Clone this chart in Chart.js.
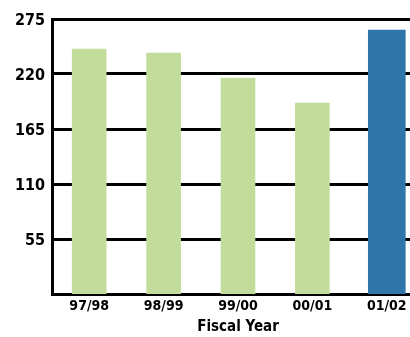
<!DOCTYPE html>
<html>
<head>
<meta charset="utf-8">
<script src="https://cdn.jsdelivr.net/npm/chart.js@4/dist/chart.umd.min.js"></script>
<style>
  html, body { margin: 0; padding: 0; background: #fff; overflow: hidden; width: 410px; height: 337px; }
  #wrap { position: relative; width: 424px; height: 337px; }
</style>
</head>
<body>
<div id="wrap"><canvas id="c" width="424" height="337"></canvas></div>
<script>
// Fiscal years on the x axis
const years = ['97/98', '98/99', '99/00', '00/01', '01/02'];
// Earlier years (green) and the current year (blue)
const pastValues = [245, 241, 216, 191, null];
const currentValues = [null, null, null, null, 264];
// Y axis ticks
const yTicks = [55, 110, 165, 220, 275];

const condensed = '"DejaVu Sans Condensed", "DejaVu Sans", sans-serif';

new Chart(document.getElementById('c'), {
  type: 'bar',
  data: {
    labels: years,
    datasets: [
      { data: pastValues, backgroundColor: '#c2dd9b', barThickness: 34, grouped: false },
      { data: currentValues, backgroundColor: '#2e75aa', barThickness: 37, grouped: false }
    ]
  },
  options: {
    responsive: false,
    animation: false,
    layout: { padding: { top: 19, left: 0, right: 0, bottom: 0 } },
    plugins: { legend: { display: false }, tooltip: { enabled: false } },
    scales: {
      x: {
        grid: { display: false, drawTicks: false },
        border: { display: true, color: '#000', width: 3 },
        ticks: { color: '#000', font: { family: condensed, weight: 'bold', size: 14 }, padding: 4, maxRotation: 0 },
        title: {
          display: true,
          text: 'Fiscal Year',
          color: '#000',
          font: { family: condensed, weight: 'bold', size: 15 },
          padding: { top: 0, bottom: 1 }
        },
        afterFit: s => { s.height = 43; }
      },
      y: {
        min: 0,
        max: 275,
        afterBuildTicks: s => { s.ticks = yTicks.map(v => ({ value: v })); },
        grid: { color: '#000', lineWidth: 3, drawTicks: false },
        border: { display: true, color: '#000', width: 3 },
        ticks: { color: '#000', font: { family: condensed, weight: 'bold', size: 16 }, padding: 7, labelOffset: 2 },
        afterFit: s => { s.width = 52; }
      }
    }
  }
});
</script>
</body>
</html>
